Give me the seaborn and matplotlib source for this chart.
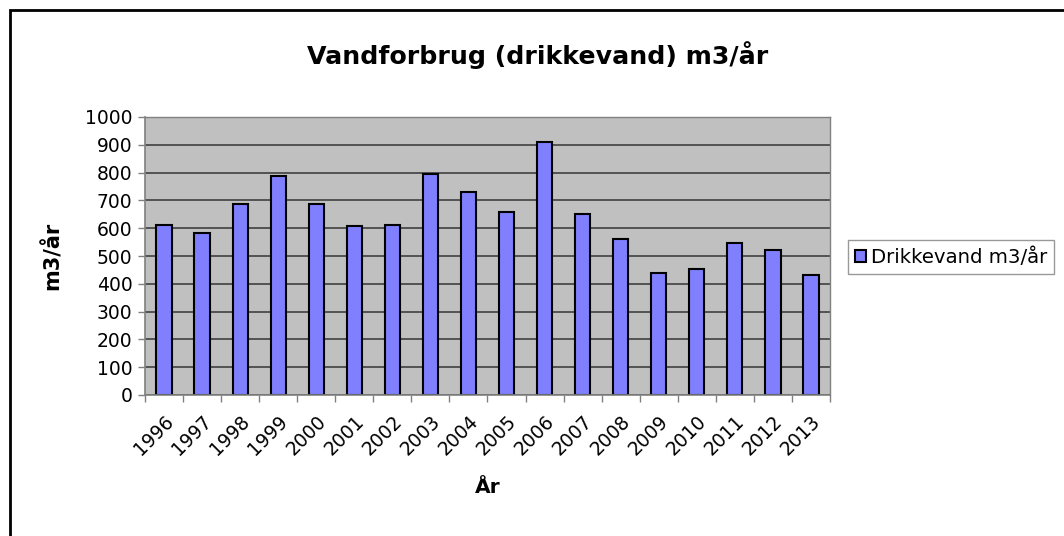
import matplotlib
matplotlib.use("Agg")
import matplotlib.pyplot as plt
import seaborn as sns
import pandas as pd
from matplotlib.patches import Rectangle

# =========================
# DATA
# =========================
years = [str(y) for y in range(1996, 2014)]
consumption = [612, 584, 687, 787, 687, 608, 612, 795, 731,
               660, 910, 650, 561, 439, 454, 546, 520, 430]
y_ticks = list(range(0, 1001, 100))

title = "Vandforbrug (drikkevand) m3/år"
series_label = "Drikkevand m3/år"
x_label = "År"
y_label = "m3/år"

df = pd.DataFrame({"year": years, "value": consumption})

# =========================
# PLOT
# =========================
sns.set_style("white")
plt.rcParams["font.family"] = ["DejaVu Sans"]
plt.rcParams["text.color"] = "black"
plt.rcParams["axes.labelcolor"] = "black"
plt.rcParams["xtick.color"] = "black"
plt.rcParams["ytick.color"] = "black"

fig = plt.figure(figsize=(10.64, 5.36), dpi=100)
ax = fig.add_axes([145 / 1064, 1 - 395 / 536, 685 / 1064, 278 / 536])

sns.barplot(
    data=df, x="year", y="value", ax=ax,
    color="#8080FF", edgecolor="black", linewidth=1.5,
    width=0.4, saturation=1, label=series_label
)

ax.set_facecolor("#C0C0C0")
ax.set_ylim(0, 1000)
ax.set_xlim(-0.5, len(years) - 0.5)
ax.set_yticks(y_ticks)
ax.yaxis.grid(True, color="#404040", linewidth=1.2)
ax.set_axisbelow(True)

for side in ["top", "right"]:
    ax.spines[side].set_color("#808080")
    ax.spines[side].set_linewidth(1)
for side in ["left", "bottom"]:
    ax.spines[side].set_color("#808080")
    ax.spines[side].set_linewidth(1.2)

ax.tick_params(axis="y", labelsize=13.5, length=5, width=1,
               color="#808080", left=True, pad=4)
ax.set_xticks(range(len(years)))
ax.set_xticklabels(years, rotation=45, ha="right", rotation_mode="anchor",
                   fontsize=13.5)
ax.tick_params(axis="x", length=0, pad=12)
# category boundary ticks
ax.set_xticks([i - 0.5 for i in range(len(years) + 1)], minor=True)
ax.tick_params(axis="x", which="minor", length=5, width=1, color="#808080",
               bottom=True)

ax.set_xlabel(x_label, fontsize=14.5, fontweight="bold", labelpad=14)
ax.set_ylabel(y_label, fontsize=15, fontweight="bold", labelpad=16)
fig.text(538 / 1064, 1 - 55 / 536, title, fontsize=18.2,
         fontweight="bold", ha="center", va="center")

ax.legend(
    loc="center left", bbox_to_anchor=(848 / 1064, 1 - 257 / 536),
    bbox_transform=fig.transFigure, fontsize=14.2, frameon=True,
    fancybox=False, edgecolor="#808080", handlelength=0.55,
    handleheight=0.55, handletextpad=0.25, borderpad=0.35,
    borderaxespad=0
)

# outer chart frame
fig.patches.append(Rectangle((10 / 1064, -0.1), 1.2, 1.1 - 10 / 536,
                             transform=fig.transFigure, fill=False,
                             edgecolor="black", linewidth=2))

plt.savefig("out.png", dpi=100)
plt.close()
